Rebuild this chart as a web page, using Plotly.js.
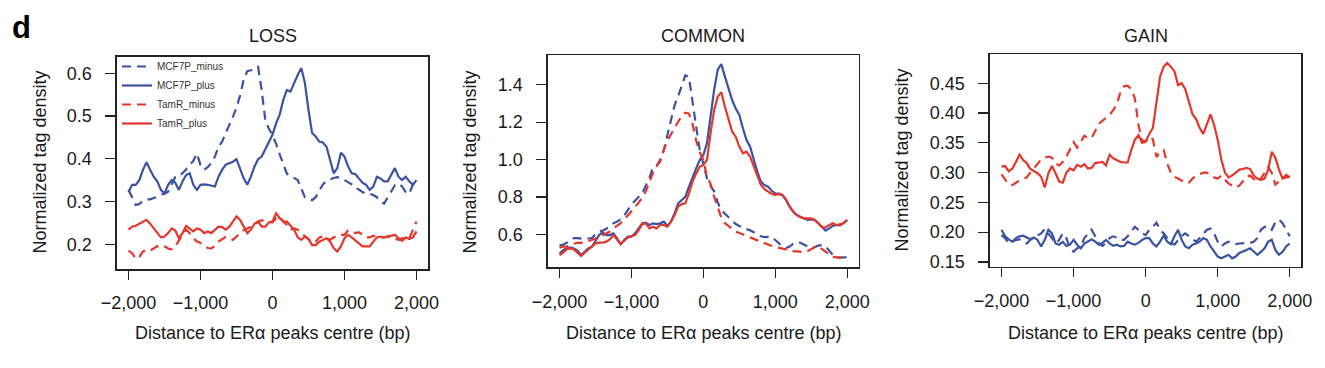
<!DOCTYPE html>
<html>
<head>
<meta charset="utf-8">
<script src="https://cdn.plot.ly/plotly-3.0.1.min.js"></script>
<style>html,body{margin:0;padding:0;background:#fff;}#chart{width:1325px;height:368px;}</style>
</head>
<body>
<div id="chart"></div>
<script>
// ---------- DATA ----------
const panelTitles = ["LOSS", "COMMON", "GAIN"];
const seriesNames = ["MCF7P_minus", "MCF7P_plus", "TamR_minus", "TamR_plus"];
const xTickVals = [-2000, -1000, 0, 1000, 2000];
const xTickText = ["\u22122,000", "\u22121,000", "0", "1,000", "2,000"];
const lossTickVals = [0.2, 0.3, 0.4, 0.5, 0.6];
const lossTickText = ["0.2", "0.3", "0.4", "0.5", "0.6"];
const commonTickVals = [0.6, 0.8, 1.0, 1.2, 1.4];
const commonTickText = ["0.6", "0.8", "1.0", "1.2", "1.4"];
const gainTickVals = [0.15, 0.20, 0.25, 0.30, 0.35, 0.40, 0.45];
const gainTickText = ["0.15", "0.20", "0.25", "0.30", "0.35", "0.40", "0.45"];

// distance to peak centre (bp), -2000 .. 2000 every 50 bp
const distance = [
 -2000,-1950,-1900,-1850,-1800,-1750,-1700,-1650,-1600,-1550,
 -1500,-1450,-1400,-1350,-1300,-1250,-1200,-1150,-1100,-1050,
 -1000,-950,-900,-850,-800,-750,-700,-650,-600,-550,
 -500,-450,-400,-350,-300,-250,-200,-150,-100,-50,
 0,50,100,150,200,250,300,350,400,450,
 500,550,600,650,700,750,800,850,900,950,
 1000,1050,1100,1150,1200,1250,1300,1350,1400,1450,
 1500,1550,1600,1650,1700,1750,1800,1850,1900,1950,
 2000];

// LOSS
const lossMcfMinus = [
 0.327,0.311,0.292,0.294,0.302,0.305,0.305,0.308,0.311,0.316,
 0.318,0.323,0.342,0.357,0.358,0.366,0.375,0.385,0.395,0.412,
 0.385,0.374,0.380,0.390,0.405,0.428,0.440,0.460,0.478,0.498,
 0.520,0.548,0.585,0.605,0.607,0.610,0.615,0.560,0.490,0.470,
 0.455,0.435,0.410,0.385,0.365,0.360,0.355,0.350,0.330,0.310,
 0.305,0.303,0.310,0.325,0.340,0.348,0.352,0.355,0.357,0.355,
 0.350,0.345,0.340,0.332,0.328,0.322,0.318,0.318,0.315,0.310,
 0.300,0.295,0.310,0.325,0.338,0.342,0.335,0.322,0.318,0.340,
 0.352];
const lossMcfPlus = [
 0.323,0.339,0.339,0.350,0.374,0.392,0.374,0.358,0.347,0.327,
 0.319,0.339,0.350,0.344,0.327,0.347,0.362,0.366,0.339,0.327,
 0.339,0.340,0.339,0.337,0.335,0.358,0.374,0.386,0.390,0.393,
 0.399,0.378,0.354,0.339,0.358,0.382,0.399,0.405,0.422,0.436,
 0.456,0.483,0.503,0.538,0.561,0.557,0.577,0.596,0.612,0.577,
 0.514,0.460,0.452,0.440,0.438,0.428,0.397,0.366,0.378,0.414,
 0.405,0.382,0.366,0.364,0.354,0.344,0.339,0.327,0.335,0.358,
 0.354,0.347,0.347,0.362,0.378,0.358,0.350,0.358,0.347,0.339,
 0.350];
const lossTamMinus = [
 0.185,0.179,0.166,0.170,0.183,0.187,0.185,0.191,0.195,0.198,
 0.195,0.190,0.188,0.195,0.210,0.222,0.234,0.226,0.214,0.206,
 0.203,0.198,0.191,0.190,0.196,0.206,0.212,0.217,0.214,0.210,
 0.218,0.226,0.233,0.237,0.241,0.245,0.253,0.256,0.254,0.253,
 0.251,0.261,0.265,0.253,0.245,0.234,0.237,0.234,0.226,0.218,
 0.210,0.204,0.206,0.216,0.218,0.214,0.210,0.216,0.218,0.222,
 0.222,0.232,0.230,0.226,0.228,0.222,0.216,0.216,0.220,0.216,
 0.216,0.216,0.218,0.214,0.214,0.210,0.214,0.212,0.214,0.234,
 0.253];
const lossTamPlus = [
 0.234,0.241,0.243,0.248,0.251,0.257,0.248,0.237,0.226,0.216,
 0.218,0.226,0.237,0.232,0.214,0.226,0.243,0.237,0.230,0.237,
 0.234,0.226,0.230,0.226,0.234,0.241,0.240,0.234,0.241,0.253,
 0.265,0.257,0.241,0.226,0.234,0.248,0.253,0.241,0.241,0.251,
 0.253,0.272,0.261,0.253,0.253,0.243,0.234,0.216,0.210,0.218,
 0.212,0.198,0.198,0.206,0.210,0.214,0.206,0.191,0.183,0.195,
 0.214,0.222,0.216,0.210,0.202,0.195,0.195,0.195,0.206,0.216,
 0.218,0.216,0.218,0.220,0.222,0.214,0.208,0.216,0.212,0.216,
 0.230];

// COMMON
const commonMcfMinus = [
 0.540,0.545,0.555,0.570,0.580,0.580,0.578,0.575,0.578,0.580,
 0.600,0.615,0.620,0.630,0.645,0.660,0.668,0.680,0.700,0.730,
 0.760,0.780,0.800,0.820,0.860,0.900,0.960,0.965,0.990,1.050,
 1.130,1.210,1.290,1.340,1.400,1.450,1.440,1.300,1.175,1.051,
 0.980,0.900,0.860,0.830,0.770,0.730,0.710,0.690,0.670,0.655,
 0.645,0.635,0.628,0.622,0.610,0.600,0.590,0.585,0.588,0.587,
 0.570,0.550,0.535,0.527,0.535,0.550,0.558,0.555,0.545,0.535,
 0.530,0.532,0.540,0.543,0.535,0.515,0.490,0.478,0.475,0.477,
 0.478];
const commonMcfPlus = [
 0.498,0.516,0.525,0.530,0.525,0.513,0.490,0.507,0.525,0.534,
 0.566,0.596,0.609,0.596,0.596,0.605,0.579,0.548,0.570,0.588,
 0.588,0.605,0.632,0.659,0.662,0.650,0.659,0.655,0.659,0.668,
 0.645,0.668,0.712,0.766,0.784,0.801,0.855,0.908,0.953,0.997,
 1.024,1.086,1.229,1.372,1.480,1.510,1.443,1.380,1.318,1.273,
 1.238,1.167,1.104,1.069,0.997,0.935,0.882,0.864,0.855,0.833,
 0.819,0.816,0.810,0.784,0.748,0.721,0.703,0.694,0.686,0.677,
 0.680,0.677,0.659,0.641,0.620,0.632,0.645,0.650,0.648,0.662,
 0.677];
const commonTamMinus = [
 0.528,0.535,0.535,0.540,0.550,0.555,0.555,0.560,0.562,0.570,
 0.578,0.585,0.595,0.605,0.615,0.632,0.645,0.660,0.680,0.700,
 0.720,0.745,0.770,0.795,0.830,0.880,0.930,0.965,1.000,1.050,
 1.100,1.135,1.170,1.205,1.235,1.250,1.245,1.190,1.100,1.040,
 0.997,0.910,0.870,0.800,0.740,0.690,0.660,0.645,0.625,0.615,
 0.607,0.600,0.590,0.583,0.575,0.568,0.560,0.552,0.545,0.537,
 0.532,0.528,0.525,0.520,0.515,0.510,0.508,0.507,0.505,0.510,
 0.520,0.532,0.535,0.520,0.505,0.490,0.480,0.477,0.478,0.478,
 0.477];
const commonTamPlus = [
 0.490,0.502,0.520,0.525,0.520,0.502,0.484,0.502,0.520,0.538,
 0.552,0.556,0.556,0.561,0.573,0.596,0.573,0.548,0.566,0.584,
 0.591,0.596,0.623,0.655,0.659,0.632,0.641,0.632,0.650,0.650,
 0.641,0.668,0.703,0.748,0.762,0.766,0.819,0.882,0.926,0.962,
 0.971,0.997,1.140,1.265,1.336,1.360,1.282,1.211,1.149,1.122,
 1.069,1.033,1.042,1.015,0.962,0.908,0.864,0.841,0.828,0.816,
 0.810,0.819,0.810,0.784,0.748,0.721,0.703,0.691,0.686,0.686,
 0.686,0.677,0.655,0.638,0.638,0.650,0.659,0.650,0.655,0.659,
 0.677];

// GAIN
const gainMcfMinus = [
 0.195,0.190,0.181,0.184,0.187,0.188,0.186,0.181,0.187,0.191,
 0.195,0.198,0.205,0.198,0.190,0.181,0.187,0.198,0.190,0.173,
 0.167,0.173,0.176,0.190,0.198,0.204,0.193,0.181,0.177,0.182,
 0.190,0.193,0.191,0.187,0.187,0.193,0.201,0.209,0.204,0.198,
 0.195,0.204,0.209,0.216,0.204,0.198,0.190,0.182,0.179,0.187,
 0.194,0.198,0.193,0.188,0.184,0.190,0.198,0.204,0.206,0.198,
 0.184,0.176,0.181,0.184,0.181,0.180,0.181,0.181,0.182,0.182,
 0.184,0.190,0.204,0.209,0.210,0.204,0.217,0.221,0.215,0.204,
 0.193];
const gainMcfPlus = [
 0.204,0.193,0.188,0.184,0.190,0.193,0.194,0.191,0.188,0.191,
 0.187,0.176,0.187,0.204,0.198,0.181,0.179,0.184,0.177,0.179,
 0.187,0.179,0.173,0.181,0.184,0.188,0.184,0.179,0.182,0.187,
 0.181,0.177,0.179,0.176,0.177,0.184,0.181,0.179,0.182,0.187,
 0.190,0.190,0.181,0.176,0.184,0.194,0.184,0.180,0.193,0.204,
 0.187,0.176,0.173,0.179,0.181,0.184,0.190,0.187,0.176,0.167,
 0.159,0.156,0.159,0.162,0.156,0.159,0.165,0.167,0.170,0.173,
 0.167,0.162,0.167,0.173,0.184,0.187,0.170,0.162,0.167,0.176,
 0.181];
const gainTamMinus = [
 0.297,0.288,0.280,0.279,0.283,0.287,0.289,0.292,0.300,0.308,
 0.316,0.322,0.325,0.327,0.325,0.315,0.312,0.318,0.327,0.340,
 0.351,0.342,0.352,0.362,0.358,0.358,0.370,0.382,0.387,0.392,
 0.397,0.405,0.415,0.435,0.445,0.446,0.440,0.425,0.380,0.354,
 0.352,0.360,0.356,0.326,0.335,0.338,0.315,0.300,0.293,0.290,
 0.287,0.283,0.283,0.290,0.295,0.298,0.300,0.300,0.296,0.292,
 0.290,0.295,0.288,0.282,0.278,0.275,0.278,0.285,0.293,0.295,
 0.290,0.284,0.290,0.300,0.309,0.300,0.280,0.285,0.290,0.292,
 0.293];
const gainTamPlus = [
 0.310,0.311,0.302,0.307,0.318,0.330,0.321,0.316,0.306,0.303,
 0.299,0.293,0.275,0.299,0.311,0.299,0.285,0.283,0.300,0.307,
 0.304,0.313,0.310,0.314,0.307,0.308,0.316,0.317,0.318,0.312,
 0.330,0.324,0.321,0.318,0.317,0.317,0.338,0.355,0.363,0.350,
 0.352,0.365,0.375,0.422,0.461,0.478,0.484,0.478,0.470,0.447,
 0.450,0.440,0.420,0.398,0.390,0.375,0.365,0.380,0.398,0.380,
 0.355,0.322,0.300,0.292,0.295,0.300,0.305,0.306,0.308,0.306,
 0.295,0.290,0.288,0.290,0.305,0.335,0.325,0.305,0.290,0.296,
 0.292];

// ---------- STYLE ----------
const BLUE = "#3B52A3";
const RED = "#E4372B";
const FONT = "Liberation Sans, Arial, Helvetica, sans-serif";
const W = 1325, H = 368;
const px = v => v / W;
const py = v => 1 - v / H;

const panelSeries = [
  [lossMcfMinus, lossMcfPlus, lossTamMinus, lossTamPlus],
  [commonMcfMinus, commonMcfPlus, commonTamMinus, commonTamPlus],
  [gainMcfMinus, gainMcfPlus, gainTamMinus, gainTamPlus]
];
const seriesColor = [BLUE, BLUE, RED, RED];
const seriesDash = ["9px,6px", "solid", "9px,6px", "solid"];

const traces = [];
panelSeries.forEach((ser, p) => {
  const sfx = p === 0 ? "" : String(p + 1);
  ser.forEach((vals, i) => {
    traces.push({
      type: "scatter", mode: "lines",
      x: distance, y: vals,
      name: seriesNames[i],
      xaxis: "x" + sfx, yaxis: "y" + sfx,
      showlegend: p === 0,
      line: {color: seriesColor[i], width: 2.2, dash: seriesDash[i]},
      hoverinfo: "skip"
    });
  });
});

// plot boxes in pixels [left, right, top, bottom]
const boxes = [[117, 428, 57, 269], [548, 858.7, 55.3, 267.3], [990, 1301.3, 54.3, 266.7]];
const yRanges = [[0.142, 0.638], [0.424, 1.557], [0.142, 0.4987]];
const yTicks = [[lossTickVals, lossTickText], [commonTickVals, commonTickText], [gainTickVals, gainTickText]];

const layout = {
  width: W, height: H,
  margin: {l: 0, r: 0, t: 0, b: 0, pad: 0},
  paper_bgcolor: "#fff", plot_bgcolor: "#fff",
  font: {family: FONT, size: 18, color: "#1a1a1a"},
  showlegend: true,
  legend: {
    x: px(117), y: py(52), xanchor: "left", yanchor: "top",
    bgcolor: "rgba(0,0,0,0)", borderwidth: 0,
    font: {family: FONT, size: 10, color: "#333"},
    tracegroupgap: 0
  },
  annotations: [],
  shapes: []
};

boxes.forEach((b, p) => {
  const sfx = p === 0 ? "" : String(p + 1);
  layout["xaxis" + sfx] = {
    domain: [px(b[0]), px(b[1])],
    anchor: "y" + sfx,
    range: [-2160, 2160],
    tickmode: "array", tickvals: xTickVals, ticktext: xTickText,
    ticks: "outside", ticklen: 9, tickwidth: 1.2, tickcolor: "#222",
    showline: true, mirror: true, linecolor: "#222", linewidth: 1.6,
    showgrid: false, zeroline: false,
    tickfont: {family: FONT, size: 18, color: "#1a1a1a"},
    ticklabelstandoff: 8,
    fixedrange: true
  };
  layout["yaxis" + sfx] = {
    domain: [py(b[3]), py(b[2])],
    anchor: "x" + sfx,
    range: yRanges[p],
    tickmode: "array", tickvals: yTicks[p][0], ticktext: yTicks[p][1],
    ticks: "outside", ticklen: 10, tickwidth: 1.2, tickcolor: "#222",
    showline: true, mirror: true, linecolor: "#222", linewidth: 1.6,
    showgrid: false, zeroline: false,
    tickfont: {family: FONT, size: 18, color: "#1a1a1a"},
    ticklabelstandoff: 10,
    fixedrange: true
  };
});

// panel titles
const titleX = [272.5, 703, 1146];
panelTitles.forEach((t, p) => {
  layout.annotations.push({
    text: t, xref: "paper", yref: "paper",
    x: px(titleX[p]), y: py(36), xanchor: "center", yanchor: "middle",
    showarrow: false, font: {family: FONT, size: 18, color: "#1a1a1a"}
  });
});
// x-axis titles
const xtX = [272.5, 704, 1145.5];
xtX.forEach(x => {
  layout.annotations.push({
    text: "Distance to ER\u03b1 peaks centre (bp)", xref: "paper", yref: "paper",
    x: px(x), y: py(333), xanchor: "center", yanchor: "middle",
    showarrow: false, font: {family: FONT, size: 18, color: "#1a1a1a"}
  });
});
// y-axis titles
const ytX = [39, 470, 901];
const ytY = [162.5, 161.5, 160.5];
ytX.forEach((x, i) => {
  layout.annotations.push({
    text: "Normalized tag density", xref: "paper", yref: "paper",
    x: px(x), y: py(ytY[i]), xanchor: "center", yanchor: "middle",
    textangle: -90,
    showarrow: false, font: {family: FONT, size: 18, color: "#1a1a1a"}
  });
});
// panel letter
layout.annotations.push({
  text: "<b>d</b>", xref: "paper", yref: "paper",
  x: px(10), y: py(27), xanchor: "left", yanchor: "middle",
  showarrow: false, font: {family: FONT, size: 31, color: "#000"}
});

Plotly.newPlot("chart", traces, layout, {displayModeBar: false, staticPlot: true});
</script>
</body>
</html>
